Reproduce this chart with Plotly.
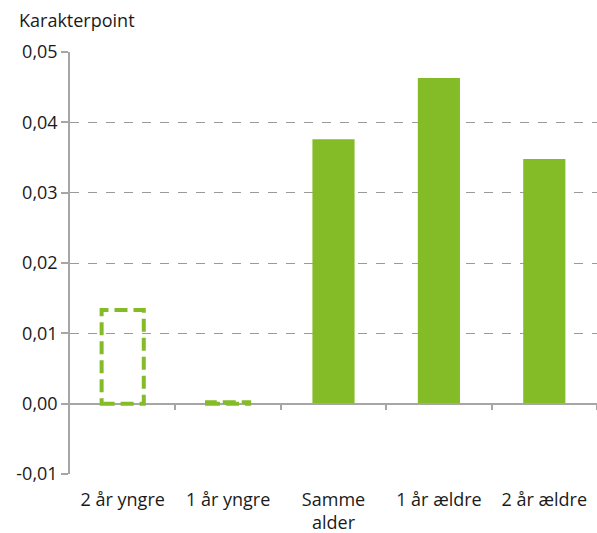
import plotly.graph_objects as go

# ---------------- DATA ----------------
categories = ["2 år yngre", "1 år yngre", "Samme<br>alder", "1 år ældre", "2 år ældre"]
values = [0.0133, 0.0002, 0.0376, 0.0463, 0.0348]
uncertain = [True, True, False, False, False]   # dashed outline, no fill
y_ticks = [-0.01, 0.0, 0.01, 0.02, 0.03, 0.04, 0.05]
y_labels = ["-0,01", "0,00", "0,01", "0,02", "0,03", "0,04", "0,05"]

GREEN = "#84BC27"
GREY = "#A6A6A6"
FONT = "Open Sans"
FS = 18
BAR_W = 0.4

xs = list(range(len(categories)))

fig = go.Figure()

# solid bars
fig.add_trace(go.Bar(
    x=[x for x, u in zip(xs, uncertain) if not u],
    y=[v for v, u in zip(values, uncertain) if not u],
    width=BAR_W,
    marker=dict(color=GREEN, line=dict(width=0)),
    showlegend=False,
))

# dashed outline bars (drawn on data axes)
for x, v, u in zip(xs, values, uncertain):
    if u:
        fig.add_shape(
            type="rect", xref="x", yref="y",
            x0=x - BAR_W / 2, x1=x + BAR_W / 2, y0=0, y1=v,
            line=dict(color=GREEN, width=4, dash="13px,6px"),
            fillcolor="rgba(0,0,0,0)",
        )

# zero line with category separator ticks (second x axis)
fig.add_trace(go.Scatter(x=[-0.5, 4.5], y=[0, 0], xaxis="x2", yaxis="y",
                         mode="lines", line=dict(color=GREY, width=1.5),
                         hoverinfo="skip", showlegend=False))

fig.update_layout(
    width=597, height=533,
    margin=dict(l=70, r=0, t=52, b=59, autoexpand=False),
    plot_bgcolor="white", paper_bgcolor="white",
    font=dict(family=FONT, size=FS, color="#1a1a1a"),
    xaxis=dict(
        range=[-0.5, 4.5], tickvals=xs, ticktext=categories,
        showline=False, showgrid=False, zeroline=False,
        ticks="outside", ticklen=9, tickcolor="rgba(0,0,0,0)",
        tickfont=dict(size=FS),
    ),
    xaxis2=dict(
        overlaying="x", anchor="free", position=1 / 6,
        range=[-0.5, 4.5], tickvals=[0.5, 1.5, 2.5, 3.5, 4.5],
        showticklabels=False, ticks="outside", ticklen=6, tickcolor=GREY,
        tickwidth=1.5, showline=True, linecolor=GREY, linewidth=1.5,
        showgrid=False, zeroline=False,
    ),
    yaxis=dict(
        range=[-0.01, 0.05], tickvals=y_ticks, ticktext=y_labels,
        showline=True, linecolor=GREY, linewidth=1.5,
        ticks="outside", ticklen=7, tickcolor=GREY, tickwidth=1.5,
        showgrid=True, gridcolor="#9a9a9a", griddash="dash", gridwidth=1,
        zeroline=False, tickfont=dict(size=FS),
    ),
    annotations=[dict(
        text="Karakterpoint", xref="paper", yref="paper",
        x=-0.1, y=1.0, xanchor="left", yanchor="bottom", yshift=18,
        showarrow=False, font=dict(size=FS, family=FONT),
    )],
)

fig.write_html("out.html", config={"displayModeBar": False},
               post_script="document.body.style.margin='0';")
